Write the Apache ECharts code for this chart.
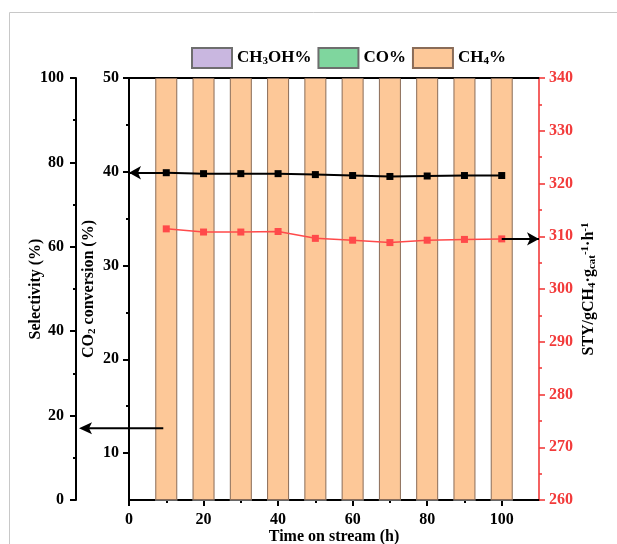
<!DOCTYPE html>
<html>
<head>
<meta charset="utf-8">
<script src="https://cdn.jsdelivr.net/npm/echarts@6/dist/echarts.min.js"></script>
<style>html,body{margin:0;padding:0;background:#fff;}#c{width:617px;height:544px;}</style>
</head>
<body>
<div id="c"></div>
<script>
// ---- data ----
const timeOnStream = [10, 20, 30, 40, 50, 60, 70, 80, 90, 100];
const co2Conversion = [39.9, 39.8, 39.8, 39.8, 39.7, 39.6, 39.5, 39.55, 39.6, 39.6];
const stySeries = [311.4, 310.8, 310.8, 310.9, 309.6, 309.25, 308.8, 309.25, 309.4, 309.5];
const ch3ohSelectivity = [0, 0, 0, 0, 0, 0, 0, 0, 0, 0];
const coSelectivity = [0, 0, 0, 0, 0, 0, 0, 0, 0, 0];
const ch4Selectivity = [100, 100, 100, 100, 100, 100, 100, 100, 100, 100];
const xMajorTicks = [0, 20, 40, 60, 80, 100];
const xMinorTicks = [10, 30, 50, 70, 90];
const co2MajorTicks = [10, 20, 30, 40, 50];
const co2MinorTicks = [15, 25, 35, 45];
const legendNames = ['CH3OH%', 'CO%', 'CH4%'];
// annotation arrow (points at selectivity axis)
const selArrowFrom = [9.2, 17];

const FF = 'Liberation Serif';
const RED = '#F23A3A';
const pair = arr => timeOnStream.map((x, i) => [x, arr[i]]);
const rich = color => ({
  sub: {fontFamily: FF, fontWeight: 'bold', fontSize: 11, color: color, padding: [7, 0, 0, 0]},
  sup: {fontFamily: FF, fontWeight: 'bold', fontSize: 11, color: color, padding: [0, 0, 7, 0]}
});
const lblStyle = {fontFamily: FF, fontWeight: 'bold', fontSize: 16, color: '#000'};
const line = (color, w) => ({show: true, onZero: false, lineStyle: {color: color, width: w}});
const noLine = {show: false, onZero: false};

const chart = echarts.init(document.getElementById('c'), null, {renderer: 'canvas'});
const option = {
  backgroundColor: '#fff',
  animation: false,
  grid: {left: 129, right: 78, top: 78, bottom: 44, containLabel: false, outerBoundsMode: 'none'},
  legend: {
    data: legendNames,
    top: 47, left: 191, padding: 0,
    itemWidth: 40, itemHeight: 20, itemGap: 6,
    icon: 'rect',
    selectedMode: false,
    formatter: n => n === 'CH3OH%' ? 'CH{sub|3}OH%' : (n === 'CH4%' ? 'CH{sub|4}%' : n),
    textStyle: Object.assign({}, lblStyle, {fontSize: 17, rich: rich('#000')})
  },
  xAxis: [
    {
      type: 'value', position: 'bottom', min: 0, max: 110, interval: 10,
      name: 'Time on stream (h)', nameLocation: 'middle', nameGap: 29, nameMoveOverlap: false,
      nameTextStyle: lblStyle,
      axisLine: line('#000', 2),
      axisTick: {show: true, customValues: xMajorTicks, length: 6, inside: false, lineStyle: {color: '#000', width: 2}},
      axisLabel: Object.assign({customValues: xMajorTicks, margin: 12}, lblStyle),
      splitLine: {show: false}
    },
    {
      type: 'value', position: 'top', min: 0, max: 110, interval: 10,
      axisLine: line('#000', 2),
      axisTick: {show: true, customValues: xMajorTicks, length: 6, inside: true, lineStyle: {color: '#000', width: 2}},
      axisLabel: {show: false},
      splitLine: {show: false}
    },
    {
      type: 'value', position: 'bottom', min: 0, max: 110, interval: 10,
      axisLine: noLine,
      axisTick: {show: true, customValues: xMinorTicks, length: 3, inside: false, lineStyle: {color: '#000', width: 2}},
      axisLabel: {show: false},
      splitLine: {show: false}
    },
    {
      type: 'value', position: 'top', min: 0, max: 110, interval: 10,
      axisLine: noLine,
      axisTick: {show: true, customValues: xMinorTicks, length: 3, inside: true, lineStyle: {color: '#000', width: 2}},
      axisLabel: {show: false},
      splitLine: {show: false}
    }
  ],
  yAxis: [
    {
      type: 'value', position: 'left', offset: 0, min: 5, max: 50,
      name: 'CO{sub|2} conversion (%)', nameLocation: 'middle', nameGap: 31, nameRotate: 90, nameMoveOverlap: false,
      nameTextStyle: Object.assign({rich: rich('#000')}, lblStyle),
      axisLine: line('#000', 2),
      axisTick: {show: true, customValues: co2MajorTicks, length: 6, lineStyle: {color: '#000', width: 2}},
      axisLabel: Object.assign({customValues: co2MajorTicks, margin: 10}, lblStyle),
      splitLine: {show: false}
    },
    {
      type: 'value', position: 'left', offset: 53, min: 0, max: 100, interval: 20,
      name: 'Selectivity (%)', nameLocation: 'middle', nameGap: 32, nameRotate: 90, nameMoveOverlap: false,
      nameTextStyle: lblStyle,
      axisLine: line('#000', 2),
      axisTick: {show: true, length: 6, lineStyle: {color: '#000', width: 2}},
      minorTick: {show: true, splitNumber: 2, length: 3, lineStyle: {color: '#000', width: 2}},
      axisLabel: Object.assign({margin: 12}, lblStyle),
      splitLine: {show: false}, minorSplitLine: {show: false}
    },
    {
      type: 'value', position: 'right', offset: 0, min: 260, max: 340, interval: 10,
      name: 'STY/gCH{sub|4}·g{sub|cat}{sup|-1}·h{sup|-1}', nameLocation: 'middle', nameGap: 41, nameRotate: 90, nameMoveOverlap: false,
      nameTextStyle: Object.assign({rich: rich('#000')}, lblStyle),
      axisLine: line(RED, 1.6),
      axisTick: {show: true, length: 6, lineStyle: {color: RED, width: 1.6}},
      minorTick: {show: true, splitNumber: 2, length: 3, lineStyle: {color: RED, width: 1.6}},
      axisLabel: Object.assign({}, lblStyle, {color: RED, margin: 10}),
      splitLine: {show: false}, minorSplitLine: {show: false}
    },
    {
      type: 'value', position: 'left', offset: 0, min: 5, max: 50,
      axisLine: noLine,
      axisTick: {show: true, customValues: co2MinorTicks, length: 3, lineStyle: {color: '#000', width: 2}},
      axisLabel: {show: false},
      splitLine: {show: false}
    }
  ],
  series: [
    {
      name: 'CH3OH%', type: 'bar', xAxisIndex: 0, yAxisIndex: 1, stack: 'sel', barWidth: 22,
      data: pair(ch3ohSelectivity),
      itemStyle: {color: '#C9B7E0', borderColor: '#6E6E6E', borderWidth: 1}
    },
    {
      name: 'CO%', type: 'bar', xAxisIndex: 0, yAxisIndex: 1, stack: 'sel', barWidth: 22,
      data: pair(coSelectivity),
      itemStyle: {color: '#7FD69E', borderColor: '#6E6E6E', borderWidth: 1}
    },
    {
      name: 'CH4%', type: 'bar', xAxisIndex: 0, yAxisIndex: 1, stack: 'sel', barWidth: 22,
      data: pair(ch4Selectivity),
      itemStyle: {color: '#FDC898', borderColor: '#8A6C58', borderWidth: 1}
    },
    {
      name: 'CO2 conversion', type: 'line', xAxisIndex: 0, yAxisIndex: 0,
      data: pair(co2Conversion),
      symbol: 'rect', symbolSize: 7, showSymbol: true,
      lineStyle: {color: '#000', width: 2}, itemStyle: {color: '#000'},
      markLine: {
        silent: true, symbol: ['none', 'arrow'], symbolSize: [10, 12],
        label: {show: false}, lineStyle: {color: '#000', width: 2, type: 'solid'},
        data: [[{coord: [timeOnStream[0], co2Conversion[0]]}, {coord: [0, co2Conversion[0]]}]]
      }
    },
    {
      name: 'STY', type: 'line', xAxisIndex: 0, yAxisIndex: 2,
      data: pair(stySeries),
      symbol: 'rect', symbolSize: 7, showSymbol: true,
      lineStyle: {color: '#FF4A4A', width: 1.5}, itemStyle: {color: '#FF4A4A'},
      markLine: {
        silent: true, symbol: ['none', 'arrow'], symbolSize: [10, 12],
        label: {show: false}, lineStyle: {color: '#000', width: 2, type: 'solid'},
        data: [[{coord: [timeOnStream[9], stySeries[9]]}, {coord: [110, stySeries[9]]}]]
      }
    }
  ]
};
chart.setOption(option);

// annotation arrow to the selectivity axis, positioned through the library's scales
const p0 = chart.convertToPixel({xAxisIndex: 0, yAxisIndex: 1}, selArrowFrom);
const xAxisZero = chart.convertToPixel({xAxisIndex: 0}, 0);
const tipX = xAxisZero - 53 + 3;
chart.setOption({
  graphic: [
    {type: 'line', shape: {x1: 9.5, y1: 12.5, x2: 617, y2: 12.5}, style: {stroke: '#C8C8C8', lineWidth: 1}, silent: true},
    {type: 'line', shape: {x1: 9.5, y1: 12.5, x2: 9.5, y2: 544}, style: {stroke: '#C8C8C8', lineWidth: 1}, silent: true},
    {type: 'line', shape: {x1: p0[0], y1: p0[1], x2: tipX + 10, y2: p0[1]}, style: {stroke: '#000', lineWidth: 2}, silent: true, z: 10},
    {type: 'polygon', shape: {points: [[tipX, p0[1]], [tipX + 13, p0[1] - 6], [tipX + 10, p0[1]], [tipX + 13, p0[1] + 6]]}, style: {fill: '#000'}, silent: true, z: 10}
  ]
});
</script>
</body>
</html>
